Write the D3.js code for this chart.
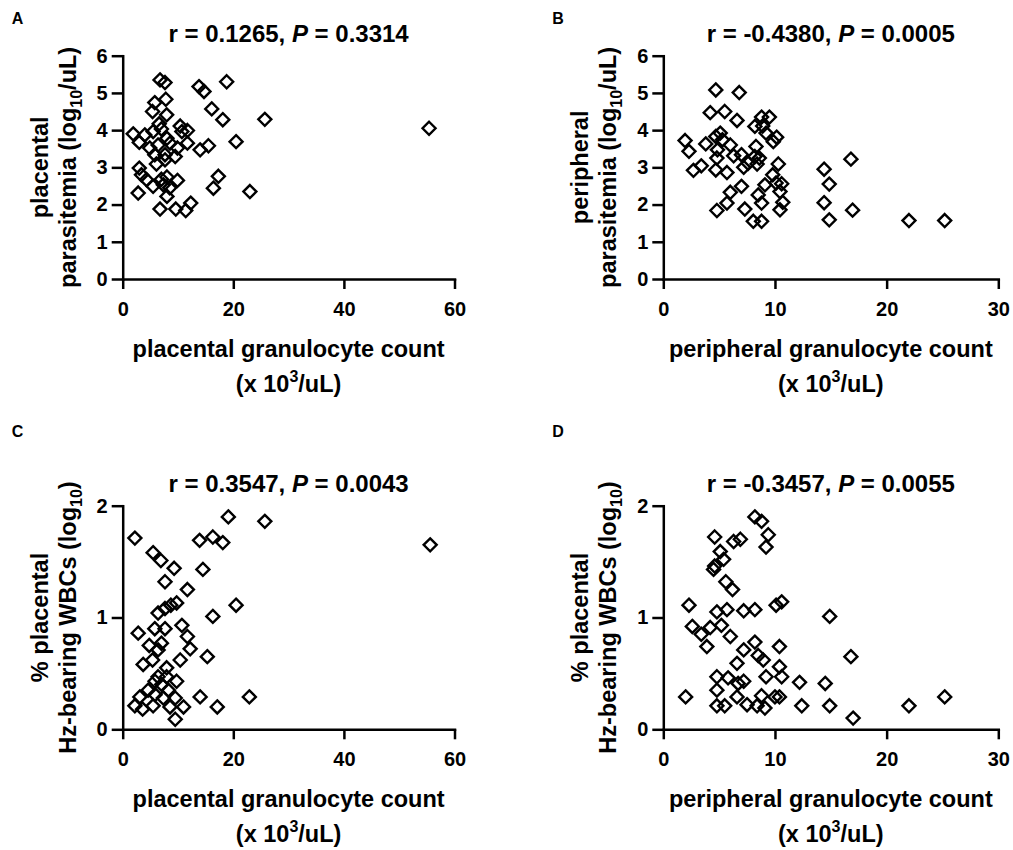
<!DOCTYPE html>
<html>
<head>
<meta charset="utf-8">
<script src="https://cdn.jsdelivr.net/npm/d3@7"></script>
<style>
  body { margin: 0; background: #fff; }
  svg { font-family: "Liberation Sans", Arial, sans-serif; }
  .axis path, .axis line { stroke: #000; stroke-width: 2.5px; }
  .axis text { font-size: 20px; font-weight: bold; fill: #000; }
</style>
</head>
<body>
<svg id="chart" width="1013" height="850"></svg>
<script>
// placental granulocyte count vs placental parasitemia
const aX = [6.75, 7.65, 13.8, 14.7, 18.8, 7.8, 5.8, 5.4, 7.95, 16.1, 18.1, 25.7, 6.6, 1.9, 4.0, 5.5, 7.0, 10.4, 11.7, 10.7,
  3.0, 8.0, 8.55, 11.7, 14.0, 15.5, 20.5, 4.9, 6.4, 9.9, 5.8, 7.65, 9.5, 6.1, 7.65, 3.0, 3.4, 4.3, 5.5, 7.0,
  8.0, 9.9, 7.35, 2.8, 8.0, 17.3, 16.4, 23.0, 6.75, 9.6, 11.4, 12.3, 55.4, 8.5]
const aY = [5.35, 5.28, 5.17, 5.04, 5.30, 4.83, 4.74, 4.50, 4.41, 4.57, 4.28, 4.29, 4.17, 3.90, 3.87, 3.96, 4.03, 4.11, 3.99, 3.96,
  3.67, 3.78, 3.65, 3.65, 3.47, 3.58, 3.69, 3.52, 3.60, 3.52, 3.34, 3.34, 3.29, 3.09, 3.20, 2.98, 2.80, 2.67, 2.49, 2.68,
  2.74, 2.65, 2.53, 2.31, 2.22, 2.76, 2.44, 2.35, 1.88, 1.88, 1.84, 2.04, 4.05, 2.45]

// peripheral granulocyte count vs peripheral parasitemia
const bX = [4.7, 6.8, 4.2, 5.5, 6.6, 8.8, 9.5, 8.2, 8.9, 9.2, 10.15, 9.85, 1.95, 2.3, 3.8, 4.7, 5.1, 5.3, 6.0, 4.85,
  4.8, 6.3, 7.0, 8.3, 8.2, 8.6, 8.4, 2.7, 3.4, 4.7, 5.7, 7.2, 7.6, 10.3, 9.8, 10.1, 10.6, 9.1, 7.0, 10.45,
  6.0, 5.7, 4.8, 7.3, 8.5, 8.8, 8.06, 8.8, 10.45, 10.7, 14.4, 14.86, 14.4, 14.86, 16.8, 16.95, 22.0, 25.2]
const bY = [5.08, 5.01, 4.47, 4.50, 4.26, 4.35, 4.35, 4.10, 4.11, 3.92, 3.81, 3.69, 3.72, 3.43, 3.63, 3.83, 3.92, 3.74, 3.60, 3.47,
  3.25, 3.31, 3.34, 3.56, 3.29, 3.25, 3.09, 2.92, 3.04, 2.93, 2.86, 3.00, 3.11, 3.09, 2.80, 2.58, 2.56, 2.53, 2.49, 2.35,
  2.33, 2.04, 1.84, 1.88, 2.26, 2.04, 1.55, 1.55, 1.86, 2.06, 2.95, 2.55, 2.05, 1.59, 3.22, 1.85, 1.57, 1.57]

// placental granulocyte count vs % Hz-bearing WBCs
const cX = [2.2, 5.5, 6.9, 9.3, 7.65, 11.7, 13.9, 16.3, 18.1, 19.1, 25.7, 14.5, 20.5, 16.3, 6.4, 7.65, 8.7, 9.75, 2.8, 5.8,
  7.65, 10.7, 11.7, 4.8, 7.0, 6.4, 12.2, 3.7, 5.4, 10.4, 15.3, 7.95, 6.4, 5.85, 7.95, 9.75, 7.05, 3.1, 4.6, 5.85,
  8.25, 7.35, 9.5, 2.2, 3.6, 5.5, 8.55, 11.0, 9.5, 14.0, 17.1, 22.9, 55.6]
const cY = [1.71, 1.58, 1.51, 1.44, 1.32, 1.25, 1.69, 1.72, 1.67, 1.90, 1.86, 1.43, 1.11, 1.01, 1.04, 1.08, 1.11, 1.13, 0.86, 0.90,
  0.90, 0.93, 0.83, 0.75, 0.77, 0.71, 0.72, 0.58, 0.62, 0.62, 0.65, 0.55, 0.47, 0.43, 0.47, 0.43, 0.40, 0.29, 0.35, 0.31,
  0.35, 0.28, 0.28, 0.21, 0.18, 0.21, 0.20, 0.20, 0.09, 0.29, 0.20, 0.29, 1.65]

// peripheral granulocyte count vs % Hz-bearing WBCs
const dX = [8.2, 8.8, 4.6, 6.3, 6.9, 9.4, 9.2, 5.1, 5.4, 4.5, 5.6, 6.2, 2.3, 4.8, 5.7, 7.2, 8.2, 10.1, 10.6, 2.6,
  3.4, 4.2, 5.2, 6.0, 3.9, 8.2, 10.4, 7.2, 8.5, 8.95, 6.6, 10.4, 4.8, 5.8, 7.2, 9.2, 10.6, 4.8, 6.7, 12.2,
  2.0, 6.6, 8.8, 10.0, 10.4, 4.8, 5.5, 7.5, 8.4, 9.1, 12.4, 14.5, 14.9, 14.9, 16.8, 17.0, 22.0, 25.2, 4.6]
const dY = [1.90, 1.86, 1.72, 1.68, 1.70, 1.74, 1.63, 1.59, 1.52, 1.43, 1.32, 1.25, 1.11, 1.05, 1.07, 1.06, 1.07, 1.11, 1.14, 0.92,
  0.85, 0.91, 0.93, 0.83, 0.74, 0.78, 0.74, 0.71, 0.66, 0.62, 0.59, 0.56, 0.47, 0.46, 0.43, 0.47, 0.47, 0.35, 0.41, 0.42,
  0.29, 0.29, 0.30, 0.29, 0.29, 0.21, 0.21, 0.22, 0.21, 0.19, 0.21, 0.41, 0.21, 1.01, 0.65, 0.10, 0.21, 0.29, 1.46]

const rValues = ['0.1265', '-0.4380', '0.3547', '-0.3457']
const pValues = ['0.3314', '0.0005', '0.0043', '0.0055']
const letters = ['A', 'B', 'C', 'D']
const ticksPlacental = [0, 20, 40, 60]
const ticksPeripheral = [0, 10, 20, 30]
const ticksParasitemia = [0, 1, 2, 3, 4, 5, 6]
const ticksHz = [0, 1, 2]

const svg = d3.select('#chart')

// layout of the 2x2 grid
const cols = [{ left: 122.7, right: 454.5 }, { left: 663.3, right: 998.3 }]
const rows = [{ top: 55.7, bottom: 279 }, { top: 505.7, bottom: 729.3 }]

const panels = [
  { xs: aX, ys: aY, col: 0, row: 0, xTicks: ticksPlacental, yTicks: ticksParasitemia,
    xLabel: 'placental granulocyte count', yLine1: 'placental', yKind: 'parasitemia' },
  { xs: bX, ys: bY, col: 1, row: 0, xTicks: ticksPeripheral, yTicks: ticksParasitemia,
    xLabel: 'peripheral granulocyte count', yLine1: 'peripheral', yKind: 'parasitemia' },
  { xs: cX, ys: cY, col: 0, row: 1, xTicks: ticksPlacental, yTicks: ticksHz,
    xLabel: 'placental granulocyte count', yLine1: '% placental', yKind: 'hz' },
  { xs: dX, ys: dY, col: 1, row: 1, xTicks: ticksPeripheral, yTicks: ticksHz,
    xLabel: 'peripheral granulocyte count', yLine1: '% placental', yKind: 'hz' }
]

const diamond = 'M0,-6.5L6.5,0L0,6.5L-6.5,0Z'
const labelSize = 23.5

panels.forEach(function (p, i) {
  const c = cols[p.col]
  const r = rows[p.row]
  const x = d3.scaleLinear().domain([0, d3.max(p.xTicks)]).range([c.left, c.right])
  const y = d3.scaleLinear().domain([0, d3.max(p.yTicks)]).range([r.bottom, r.top])
  const g = svg.append('g')
  const cx = (c.left + c.right) / 2
  const cy = (r.top + r.bottom) / 2

  // points
  g.append('g').selectAll('path')
    .data(p.xs.map(function (v, k) { return [v, p.ys[k]] }))
    .join('path')
    .attr('d', diamond)
    .attr('transform', function (d) { return 'translate(' + x(d[0]) + ',' + y(d[1]) + ')' })
    .attr('fill', 'none')
    .attr('stroke', '#000')
    .attr('stroke-width', 2.4)

  // axes
  g.append('g')
    .attr('class', 'axis')
    .attr('transform', 'translate(0,' + r.bottom + ')')
    .call(d3.axisBottom(x).tickValues(p.xTicks).tickSize(10).tickSizeOuter(0).tickPadding(13).tickFormat(d3.format('d')))
  g.append('g')
    .attr('class', 'axis')
    .attr('transform', 'translate(' + c.left + ',0)')
    .call(d3.axisLeft(y).tickValues(p.yTicks).tickSize(11).tickSizeOuter(0).tickPadding(4).tickFormat(d3.format('d')))
  g.selectAll('.axis .domain').attr('stroke-linecap', 'square')

  // panel letter
  g.append('text')
    .attr('x', c.left - 111)
    .attr('y', p.row === 0 ? 24 : 437)
    .attr('font-size', 16)
    .attr('font-weight', 'bold')
    .text(letters[i])

  // title
  const t = g.append('text')
    .attr('x', cx)
    .attr('y', r.top - 14)
    .attr('text-anchor', 'middle')
    .attr('font-size', 24)
    .attr('font-weight', 'bold')
  t.append('tspan').text('r = ' + rValues[i] + ', ')
  t.append('tspan').attr('font-style', 'italic').text('P')
  t.append('tspan').text(' = ' + pValues[i])

  // x label
  g.append('text')
    .attr('x', cx)
    .attr('y', r.bottom + 78)
    .attr('text-anchor', 'middle')
    .attr('font-size', labelSize)
    .attr('font-weight', 'bold')
    .text(p.xLabel)
  const xl2 = g.append('text')
    .attr('x', cx)
    .attr('y', r.bottom + 113)
    .attr('text-anchor', 'middle')
    .attr('font-size', labelSize)
    .attr('font-weight', 'bold')
  xl2.append('tspan').text('(x 10')
  xl2.append('tspan').attr('font-size', 16).attr('dy', -10).text('3')
  xl2.append('tspan').attr('dy', 10).text('/uL)')

  // y label, two rotated lines
  const yl = g.append('g').attr('transform', 'translate(' + (c.left - 47) + ',' + cy + ') rotate(-90)')
  yl.append('text')
    .attr('y', -28)
    .attr('text-anchor', 'middle')
    .attr('font-size', labelSize)
    .attr('font-weight', 'bold')
    .text(p.yLine1)
  const yl2 = yl.append('text')
    .attr('text-anchor', 'middle')
    .attr('font-size', labelSize)
    .attr('font-weight', 'bold')
  if (p.yKind === 'parasitemia') {
    yl2.append('tspan').text('parasitemia (log')
    yl2.append('tspan').attr('font-size', 16).attr('dy', 6).text('10')
    yl2.append('tspan').attr('dy', -6).text('/uL)')
  } else {
    yl2.append('tspan').text('Hz-bearing WBCs (log')
    yl2.append('tspan').attr('font-size', 16).attr('dy', 6).text('10')
    yl2.append('tspan').attr('dy', -6).text(')')
  }
})
</script>
</body>
</html>
